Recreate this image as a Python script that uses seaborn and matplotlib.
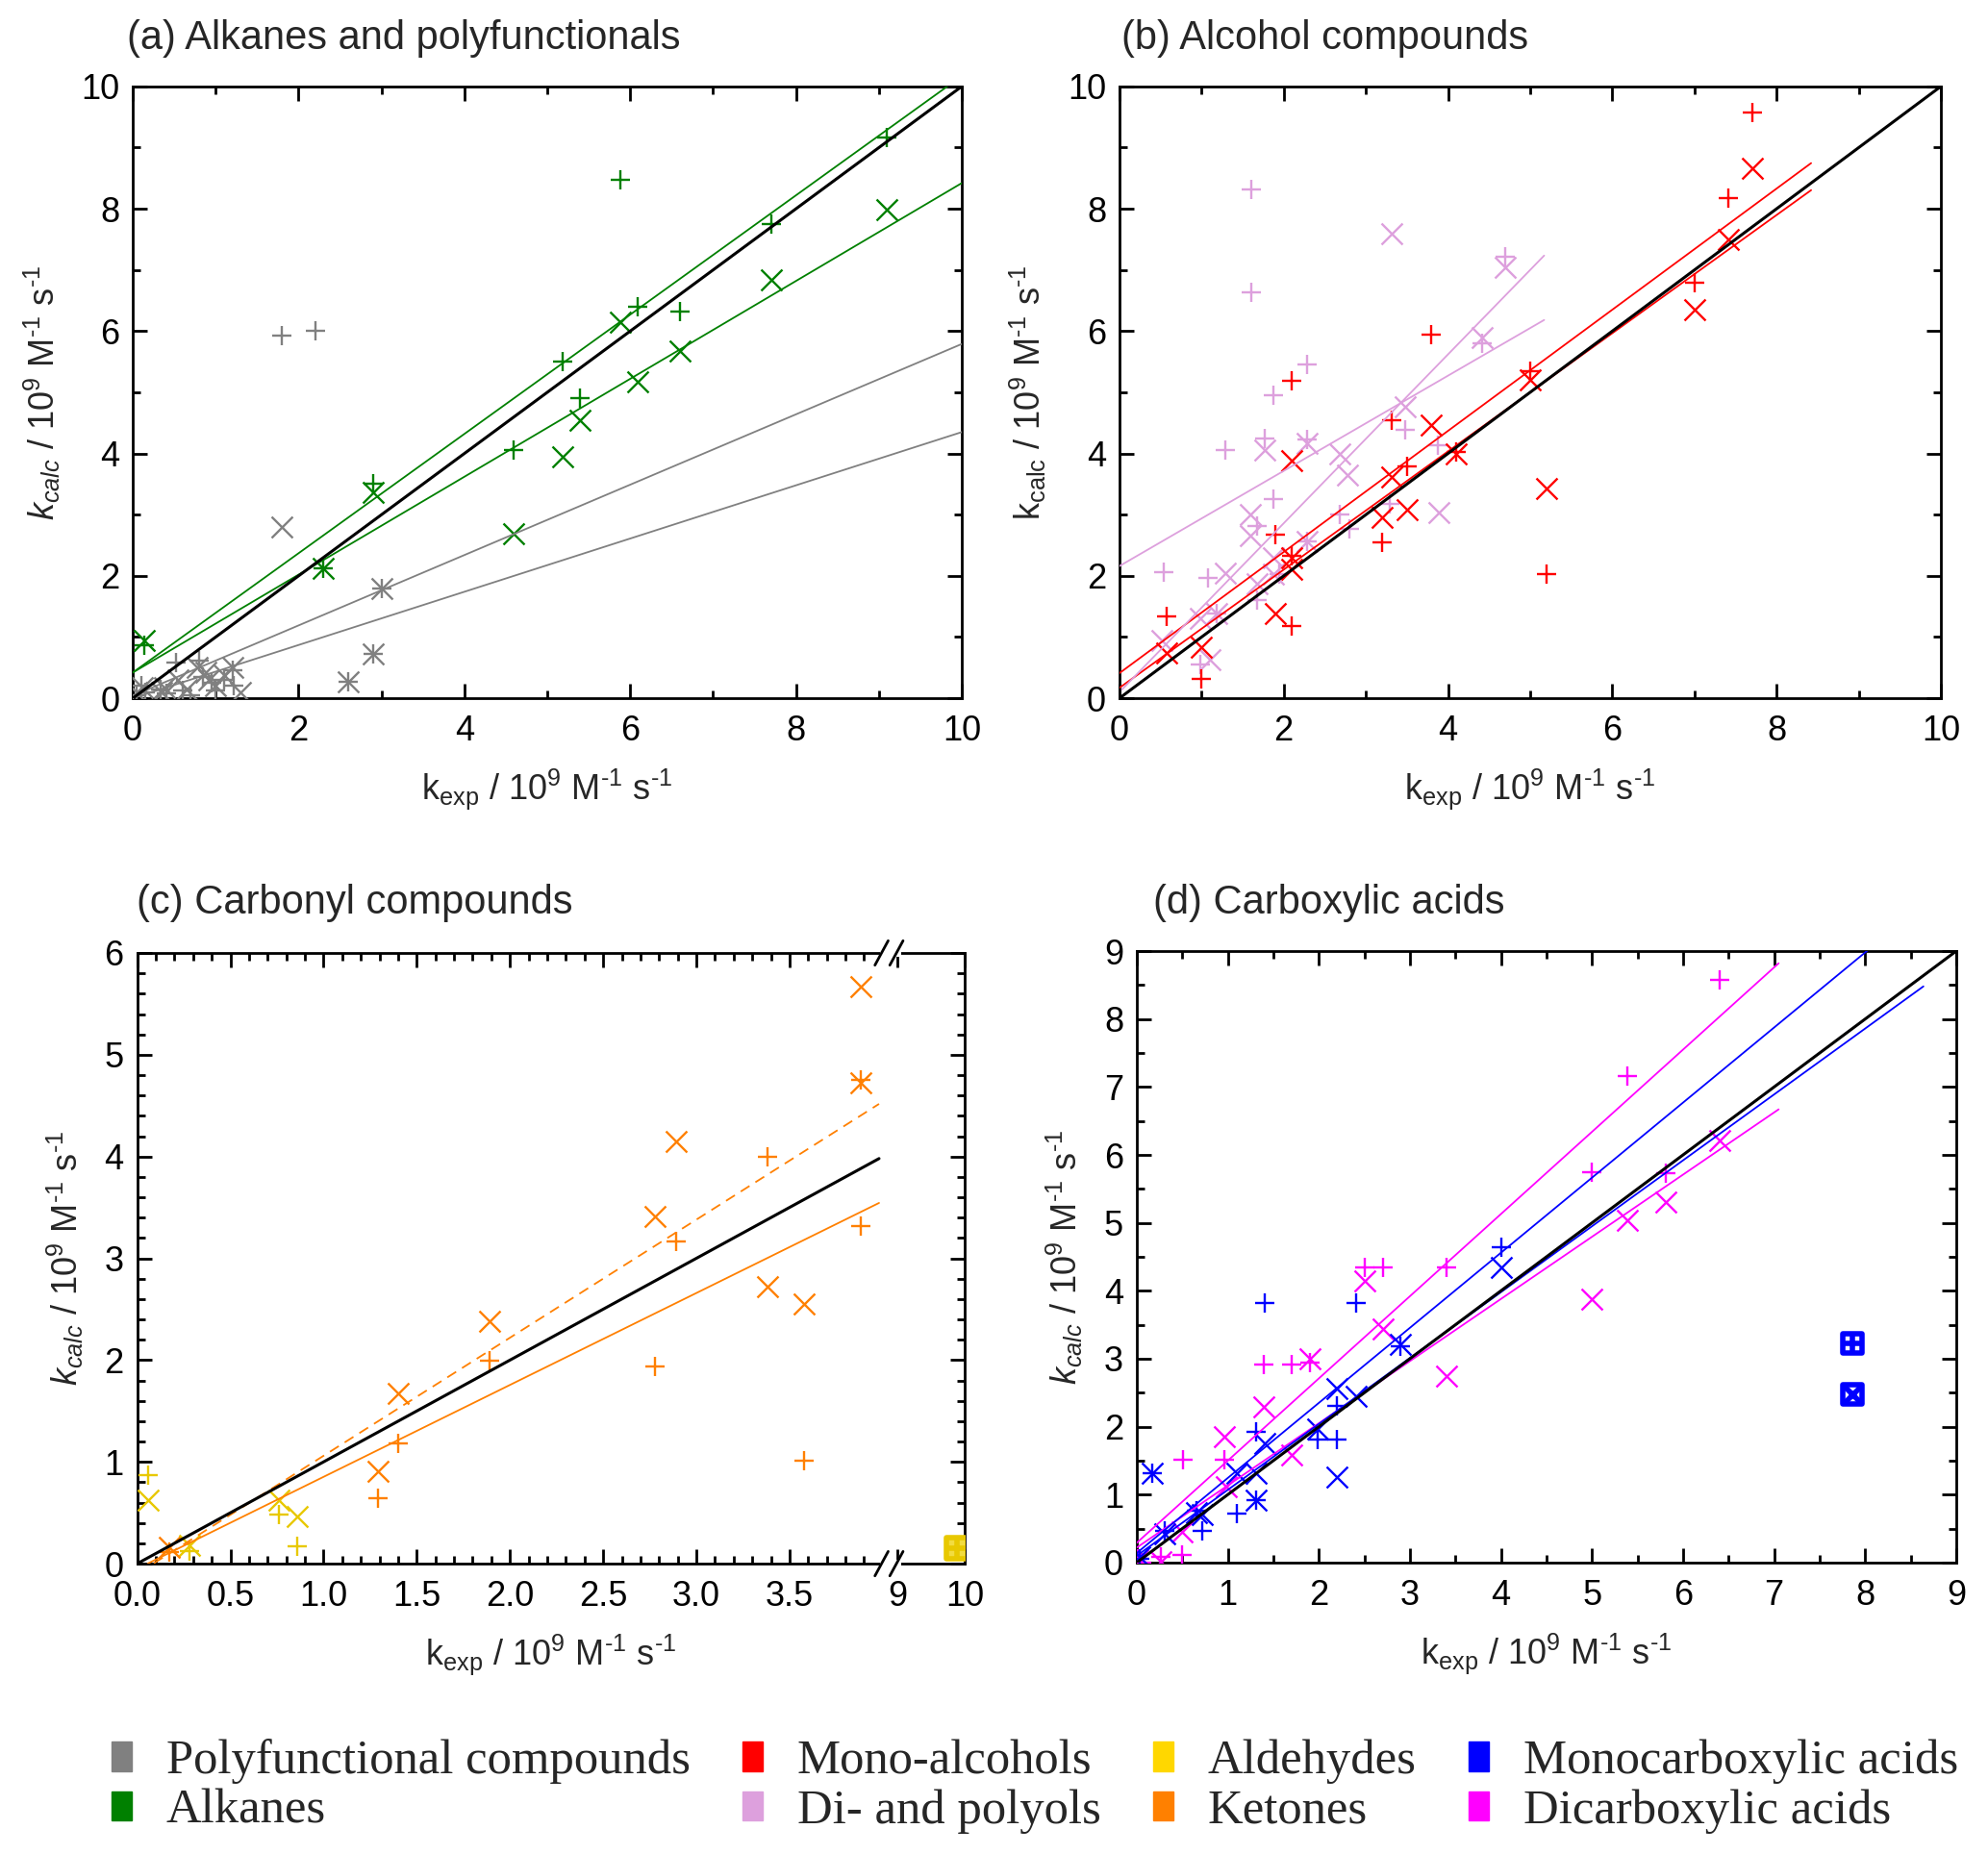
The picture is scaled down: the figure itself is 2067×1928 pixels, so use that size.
import numpy as np
import matplotlib
matplotlib.use('Agg')
import matplotlib.pyplot as plt
import seaborn as sns
from matplotlib.patches import Patch, Rectangle
from matplotlib.ticker import FixedLocator, MultipleLocator, FixedFormatter

# ---------------- data ----------------
# (a) Alkanes and polyfunctionals
poly_plus_x = [0.05, 0.10, 0.15, 0.33, 0.40, 0.52, 0.60, 0.70, 0.80, 0.85, 0.95, 1.00, 1.10, 1.20, 1.22, 1.80, 2.20, 2.60, 2.90, 3.00]
poly_plus_y = [0.05, 0.20, 0.10, 0.15, 0.08, 0.58, 0.12, 0.05, 0.62, 0.35, 0.25, 0.12, 0.30, 0.45, 0.20, 5.92, 6.01, 0.27, 0.72, 1.80]
poly_cross_x = [0.05, 0.12, 0.35, 0.38, 0.55, 0.65, 0.78, 0.88, 0.92, 1.00, 1.10, 1.20, 1.30, 1.80, 2.60, 2.90, 3.00]
poly_cross_y = [0.10, 0.18, 0.10, 0.18, 0.30, 0.15, 0.50, 0.42, 0.30, 0.20, 0.38, 0.50, 0.10, 2.80, 0.27, 0.72, 1.80]
alk_x = [0.14, 2.30, 2.90, 4.59, 5.19, 5.39, 5.88, 6.09, 6.60, 7.70, 9.09]
alk_plus_y = [0.86, 2.12, 3.51, 4.05, 5.51, 4.90, 8.47, 6.40, 6.32, 7.75, 9.16]
alk_cross_y = [0.95, 2.12, 3.36, 2.69, 3.95, 4.54, 6.14, 5.18, 5.67, 6.84, 7.99]
a_fit_intercept = [0.42, 0.42, 0.04, 0.00]
a_fit_slope = [0.975, 0.80, 0.575, 0.435]
a_fit_xmax = [10.0, 10.0, 10.0, 10.0]
a_diag_x = [0.0, 10.0]

# (b) Alcohol compounds
mono_x = [0.57, 1.00, 1.90, 2.10, 2.10, 2.10, 3.20, 3.31, 3.50, 3.80, 4.10, 5.00, 5.20, 7.00, 7.41, 7.70]
mono_plus_y = [1.34, 0.31, 2.68, 5.19, 1.18, 2.32, 2.55, 4.54, 3.79, 5.94, 4.03, 5.34, 2.03, 6.79, 8.17, 9.58]
mono_cross_y = [0.74, 0.83, 1.39, 3.89, 2.11, 2.30, 2.95, 3.61, 3.08, 4.46, 4.00, 5.20, 3.42, 6.35, 7.50, 8.66]
poll_plus_x = [0.54, 0.98, 1.08, 1.18, 1.29, 1.60, 1.60, 1.67, 1.67, 1.77, 1.88, 1.88, 1.95, 2.28, 2.28, 2.28, 2.68, 2.80, 3.29, 3.48, 3.88, 4.41, 4.70]
poll_plus_y = [2.06, 0.55, 1.96, 1.39, 4.05, 8.32, 6.63, 2.82, 1.60, 4.24, 4.96, 3.26, 2.03, 5.46, 4.23, 2.56, 3.00, 2.76, 3.18, 4.39, 4.13, 5.80, 7.22]
poll_cross_x = [0.52, 0.99, 1.10, 1.18, 1.29, 1.59, 1.59, 1.67, 1.77, 1.88, 1.88, 2.28, 2.28, 2.68, 2.78, 3.31, 3.48, 3.89, 4.41, 4.70]
poll_cross_y = [0.95, 1.30, 0.63, 1.39, 2.05, 3.00, 2.66, 1.87, 4.05, 2.29, 2.03, 4.16, 2.56, 4.00, 3.65, 7.60, 4.76, 3.03, 5.89, 7.04]
b_fit_intercept = [0.41, 0.17, 2.16, 0.10]
b_fit_slope = [0.99, 0.966, 0.778, 1.38]
b_fit_xmin = [0.0, 0.0, 0.0, 0.03]
b_fit_xmax = [8.42, 8.42, 5.17, 5.17]
b_diag_x = [0.0, 10.0]

# (c) Carbonyl compounds
ket_x = [0.17, 1.29, 1.40, 1.89, 2.78, 2.89, 3.38, 3.58, 3.88, 3.88]
ket_plus_y = [0.11, 0.64, 1.18, 1.99, 1.94, 3.17, 4.00, 1.01, 4.75, 3.32]
ket_cross_y = [0.16, 0.91, 1.67, 2.38, 3.41, 4.15, 2.72, 2.55, 4.72, 5.67]
ald_x = [0.06, 0.28, 0.76, 0.86]
ald_plus_y = [0.87, 0.12, 0.48, 0.17]
ald_cross_y = [0.62, 0.18, 0.62, 0.46]
ald_box_x = [9.88]
ald_box_y = [0.15]
c_fit_intercept = [-0.05, -0.10]
c_fit_slope = [0.903, 1.16]
c_fit_xmin = [0.056, 0.09]
c_fit_xmax = [3.98, 3.98]
c_diag_x = [0.0, 3.98]
c_xticks = [0.0, 0.5, 1.0, 1.5, 2.0, 2.5, 3.0, 3.5, 9.0, 10.0]
c_xticklabels = ['0.0', '0.5', '1.0', '1.5', '2.0', '2.5', '3.0', '3.5', '9', '10']

# (d) Carboxylic acids
mcarb_x = [0.03, 0.17, 0.31, 0.66, 0.72, 1.10, 1.31, 1.31, 1.41, 1.99, 2.20, 2.20, 2.41, 2.90, 4.00]
mcarb_plus_y = [0.05, 1.31, 0.47, 0.76, 0.46, 0.72, 1.92, 0.92, 3.82, 1.81, 1.81, 2.31, 3.82, 3.19, 4.64]
mcarb_cross_y = [0.08, 1.31, 0.42, 0.74, 0.70, 1.32, 1.32, 0.92, 1.75, 1.97, 1.26, 2.56, 2.45, 3.21, 4.34]
mcarb_box_x = [7.86, 7.86]
mcarb_box_y = [3.23, 2.47]
dcarb_plus_x = [0.01, 0.05, 0.26, 0.50, 0.51, 0.96, 1.40, 1.70, 1.90, 2.50, 2.70, 3.40, 5.00, 5.39, 5.81, 6.40]
dcarb_plus_y = [0.05, 0.00, 0.09, 0.11, 1.51, 1.51, 2.91, 2.91, 2.94, 4.34, 4.34, 4.34, 5.75, 7.16, 5.73, 8.58]
dcarb_cross_x = [0.01, 0.26, 0.50, 0.96, 0.98, 1.40, 1.70, 1.90, 2.50, 2.70, 3.40, 5.00, 5.39, 5.81, 6.40]
dcarb_cross_y = [0.04, 0.01, 0.45, 1.85, 1.12, 2.29, 1.58, 3.00, 4.14, 3.44, 2.74, 3.88, 5.04, 5.30, 6.21]
d_fit_intercept = [0.29, 0.22, 0.14, 0.10]
d_fit_slope = [1.21, 0.915, 1.105, 0.97]
d_fit_xmax = [7.05, 7.05, 8.15, 8.64]
d_diag_x = [0.0, 9.0]

legend_labels = ['Polyfunctional compounds', 'Alkanes', 'Mono-alcohols', 'Di- and polyols',
                 'Aldehydes', 'Ketones', 'Monocarboxylic acids', 'Dicarboxylic acids']

# ---------------- style ----------------
C_GRAY, C_GREEN, C_RED, C_PLUM = '#808080', '#008000', '#FF0000', '#DDA0DD'
C_GOLD, C_GOLD_PT, C_ORANGE = '#FFD700', '#E8C800', '#FF8000'
C_BLUE, C_MAG = '#0000FF', '#FF00FF'
legend_colors = [C_GRAY, C_GREEN, C_RED, C_PLUM, C_GOLD, C_ORANGE, C_BLUE, C_MAG]

sns.set_style('ticks')
plt.rcParams['font.family'] = ['Liberation Sans', 'DejaVu Sans']
plt.rcParams['mathtext.fontset'] = 'custom'
plt.rcParams['mathtext.rm'] = 'Liberation Sans'
plt.rcParams['mathtext.it'] = 'Liberation Sans:italic'
plt.rcParams['mathtext.bf'] = 'Liberation Sans:bold'

FS = 26
S_PLUS, S_CROSS, MLW = 215, 250, 1.7

fig = plt.figure(figsize=(20.67, 19.28), dpi=100)
ax_a = fig.add_axes([0.0668, 0.6234, 0.4170, 0.3300])
ax_b = fig.add_axes([0.5631, 0.6234, 0.4132, 0.3300])
ax_c = fig.add_axes([0.0690, 0.1566, 0.4162, 0.3294])
ax_d = fig.add_axes([0.5718, 0.1572, 0.4122, 0.3298])


def pts(ax, x, y, color, marker, s, lw=MLW, z=3):
    sns.scatterplot(x=np.asarray(x, float), y=np.asarray(y, float), ax=ax, color=color,
                    marker=marker, s=s, linewidth=lw, zorder=z, legend=False)


def line(ax, xs, ys, color, lw, ls='-', z=4):
    sns.lineplot(x=np.asarray(xs, float), y=np.asarray(ys, float), ax=ax, color=color,
                 linewidth=lw, linestyle=ls, sort=False, estimator=None, legend=False, zorder=z)


def fit(ax, b, m, x0, x1, color, lw=1.3, ls='-'):
    xs = np.array([x0, x1])
    line(ax, xs, b + m * xs, color, lw, ls)


def boxed(ax, x, y, color, inner, hole='white', s=190, lw=4.0):
    sns.scatterplot(x=x, y=y, ax=ax, marker='s', s=s, facecolor=hole, edgecolor=color,
                    linewidth=lw, zorder=5, legend=False)
    sns.scatterplot(x=x, y=y, ax=ax, marker=inner, s=s * 0.8, color=color,
                    linewidth=lw, zorder=6, legend=False)


def style(ax):
    for sp in ax.spines.values():
        sp.set_visible(True)
        sp.set_linewidth(2.0)
        sp.set_color('black')
    ax.tick_params(which='both', direction='in', top=True, right=True, width=2.0,
                   colors='black', labelsize=FS)
    ax.tick_params(which='major', length=11)
    ax.tick_params(which='minor', length=6)
    ax.tick_params(axis='x', which='both', pad=12)
    ax.tick_params(axis='y', which='both', pad=10)


YLAB_IT = r'$k_{calc}$ / 10$^{\mathrm{9}}$ M$^{\text{-1}}$ s$^{\text{-1}}$'
YLAB_RM = r'k$_{\mathrm{calc}}$ / 10$^{\mathrm{9}}$ M$^{\text{-1}}$ s$^{\text{-1}}$'
XLAB = r'k$_{\mathrm{exp}}$ / 10$^{\mathrm{9}}$ M$^{\text{-1}}$ s$^{\text{-1}}$'

# ---------------- (a) ----------------
ax = ax_a
pts(ax, poly_plus_x, poly_plus_y, C_GRAY, '+', S_PLUS)
pts(ax, poly_cross_x, poly_cross_y, C_GRAY, 'x', S_CROSS)
pts(ax, alk_x, alk_plus_y, C_GREEN, '+', S_PLUS)
pts(ax, alk_x, alk_cross_y, C_GREEN, 'x', S_CROSS)
for b, m, x1, c in zip(a_fit_intercept, a_fit_slope, a_fit_xmax, [C_GREEN, C_GREEN, C_GRAY, C_GRAY]):
    fit(ax, b, m, 0.0, x1, c)
line(ax, a_diag_x, a_diag_x, 'black', 2.2)
ax.set_xlim(0, 10); ax.set_ylim(0, 10)
ax.xaxis.set_major_locator(MultipleLocator(2)); ax.xaxis.set_minor_locator(MultipleLocator(1))
ax.yaxis.set_major_locator(MultipleLocator(2)); ax.yaxis.set_minor_locator(MultipleLocator(1))
style(ax)

# ---------------- (b) ----------------
ax = ax_b
pts(ax, poll_plus_x, poll_plus_y, C_PLUM, '+', S_PLUS)
pts(ax, poll_cross_x, poll_cross_y, C_PLUM, 'x', S_CROSS)
pts(ax, mono_x, mono_plus_y, C_RED, '+', S_PLUS)
pts(ax, mono_x, mono_cross_y, C_RED, 'x', S_CROSS)
for b, m, x0, x1, c in zip(b_fit_intercept, b_fit_slope, b_fit_xmin, b_fit_xmax, [C_RED, C_RED, C_PLUM, C_PLUM]):
    fit(ax, b, m, x0, x1, c)
line(ax, b_diag_x, b_diag_x, 'black', 2.2)
ax.set_xlim(0, 10); ax.set_ylim(0, 10)
ax.xaxis.set_major_locator(MultipleLocator(2)); ax.xaxis.set_minor_locator(MultipleLocator(1))
ax.yaxis.set_major_locator(MultipleLocator(2)); ax.yaxis.set_minor_locator(MultipleLocator(1))
style(ax)

# ---------------- (c) broken axis ----------------
BA, BB, BR, EPS = 4.02, 8.85, 0.36, 1e-3


def fwd(x):
    x = np.asarray(x, float)
    return np.where(x <= BA, x, np.where(x < BB, BA + (x - BA) * EPS, BA + (BB - BA) * EPS + (x - BB) * BR))


def inv(u):
    u = np.asarray(u, float)
    ub = BA + (BB - BA) * EPS
    with np.errstate(all='ignore'):
        return np.where(u <= BA, u, np.where(u < ub, BA + (u - BA) / EPS, BB + (u - ub) / BR))


ax = ax_c
ax.set_xscale('function', functions=(fwd, inv))
pts(ax, ald_x, ald_plus_y, C_GOLD_PT, '+', S_PLUS)
pts(ax, ald_x, ald_cross_y, C_GOLD_PT, 'x', S_CROSS)
pts(ax, ket_x, ket_plus_y, C_ORANGE, '+', S_PLUS)
pts(ax, ket_x, ket_cross_y, C_ORANGE, 'x', S_CROSS)
boxed(ax, ald_box_x, ald_box_y, C_GOLD_PT, '+', hole='#F2DC40', s=260)
fit(ax, c_fit_intercept[0], c_fit_slope[0], c_fit_xmin[0], c_fit_xmax[0], C_ORANGE)
fit(ax, c_fit_intercept[1], c_fit_slope[1], c_fit_xmin[1], c_fit_xmax[1], C_ORANGE, ls=(0, (6, 4)))
line(ax, c_diag_x, c_diag_x, 'black', 2.2)
ax.set_xlim(0, 10); ax.set_ylim(0, 6)
ax.xaxis.set_major_locator(FixedLocator(c_xticks))
ax.xaxis.set_major_formatter(FixedFormatter(c_xticklabels))
minor_c = [round(v, 1) for v in np.arange(0.1, 4.0, 0.1) if abs(v * 2 - round(v * 2)) > 1e-6]
ax.xaxis.set_minor_locator(FixedLocator(minor_c))
ax.yaxis.set_major_locator(MultipleLocator(1)); ax.yaxis.set_minor_locator(MultipleLocator(0.2))
style(ax)
xb = float((fwd(BA + 0.02) - fwd(0)) / (fwd(10) - fwd(0)))
for yy in (0.0, 1.0):
    ax.add_patch(Rectangle((xb - 0.008, yy - 0.006), 0.026, 0.012, transform=ax.transAxes,
                           facecolor='white', edgecolor='none', clip_on=False, zorder=10))
    for off in (-0.006, 0.012):
        ax.plot([xb + off - 0.008, xb + off + 0.008], [yy - 0.02, yy + 0.02],
                transform=ax.transAxes, color='black', lw=2.0, clip_on=False, zorder=11)

# ---------------- (d) ----------------
ax = ax_d
pts(ax, dcarb_plus_x, dcarb_plus_y, C_MAG, '+', S_PLUS)
pts(ax, dcarb_cross_x, dcarb_cross_y, C_MAG, 'x', S_CROSS)
pts(ax, mcarb_x, mcarb_plus_y, C_BLUE, '+', S_PLUS)
pts(ax, mcarb_x, mcarb_cross_y, C_BLUE, 'x', S_CROSS)
boxed(ax, mcarb_box_x[:1], mcarb_box_y[:1], C_BLUE, '+')
boxed(ax, mcarb_box_x[1:], mcarb_box_y[1:], C_BLUE, 'x')
for b, m, x1, c in zip(d_fit_intercept, d_fit_slope, d_fit_xmax, [C_MAG, C_MAG, C_BLUE, C_BLUE]):
    fit(ax, b, m, 0.0, x1, c)
line(ax, d_diag_x, d_diag_x, 'black', 2.2)
ax.set_xlim(0, 9); ax.set_ylim(0, 9)
ax.xaxis.set_major_locator(MultipleLocator(1)); ax.xaxis.set_minor_locator(MultipleLocator(0.5))
ax.yaxis.set_major_locator(MultipleLocator(1)); ax.yaxis.set_minor_locator(MultipleLocator(0.5))
style(ax)

# ---------------- labels ----------------
for ax, ylab in ((ax_a, YLAB_IT), (ax_b, YLAB_RM), (ax_c, YLAB_IT), (ax_d, YLAB_IT)):
    ax.set_xlabel(XLAB, fontsize=FS, labelpad=14)
    ax.set_ylabel(ylab, fontsize=FS, labelpad=14)

TFS = 30
fig.text(0.0639, 0.979, '(a) Alkanes and polyfunctionals', fontsize=TFS, va='center', ha='left')
fig.text(0.5640, 0.979, '(b) Alcohol compounds', fontsize=TFS, va='center', ha='left')
fig.text(0.0687, 0.513, '(c) Carbonyl compounds', fontsize=TFS, va='center', ha='left')
fig.text(0.5800, 0.513, '(d) Carboxylic acids', fontsize=TFS, va='center', ha='left')

handles = [Patch(facecolor=c, edgecolor=c) for c in legend_colors]
fig.legend(handles, legend_labels, loc='center', bbox_to_anchor=(0.5205, 0.0365), ncol=4,
           frameon=False, prop={'family': 'Liberation Serif', 'size': 36.5},
           handlelength=0.42, handleheight=0.55, handletextpad=0.7,
           columnspacing=1.07, labelspacing=0.1, borderpad=0.0)

fig.savefig('out.png', dpi=100, facecolor='white')
